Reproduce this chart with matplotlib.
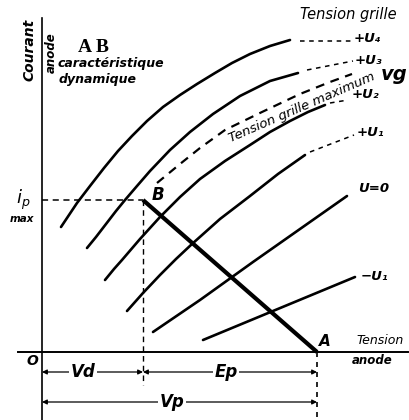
import matplotlib
matplotlib.use("Agg")
import matplotlib.pyplot as plt

# ---- data (anode voltage X, anode current Y; arbitrary units) ----
c_u4_x = [19, 27, 35, 48, 62, 76, 90, 105, 121, 138, 155, 173, 190, 208, 228, 248]
c_u4_y = [125, 137, 149, 166, 184, 201, 216, 231, 245, 257, 268, 279, 289, 298, 306, 312]
c_u4_ext_x = [258, 311]
c_u4_ext_y = [311, 311]

c_u3_x = [45, 54, 64, 74, 83, 95, 108, 128, 148, 171, 198, 228, 256]
c_u3_y = [104, 115, 128, 141, 152, 166, 181, 202, 220, 238, 256, 271, 279]
c_u3_ext_x = [265, 311]
c_u3_ext_y = [282, 291]

cmax_x = [115, 138, 158, 183, 220, 258, 288, 310]
cmax_y = [169, 188, 204, 222, 240, 258, 270, 278]

c_u2_x = [63, 72, 80, 98, 118, 138, 158, 183, 208, 228, 248, 266, 283]
c_u2_y = [72, 83, 92, 113, 135, 155, 173, 191, 207, 220, 231, 240, 247]
c_u2_ext_x = [288, 306]
c_u2_ext_y = [249, 252]

c_u1_x = [85, 101, 118, 134, 150, 178, 208, 236, 263]
c_u1_y = [41, 59, 77, 93, 108, 133, 156, 178, 197]
c_u1_ext_x = [268, 312]
c_u1_ext_y = [200, 217]

c_u0_x = [111, 158, 211, 258, 305]
c_u0_y = [20, 52, 90, 123, 156]

c_um1_x = [161, 313]
c_um1_y = [12, 75]

load_x = [101, 275]   # B, A
load_y = [152, 0]

curve_labels = ["+U₄", "+U₃", "+U₂", "+U₁", "U=0", "−U₁"]
label_pos = [(312, 313), (313, 292), (310, 257), (315, 219), (316, 163), (319, 75)]

Vd = 101
Vp = 275
ip_max = 152

fig = plt.figure(figsize=(4.1, 4.2), dpi=100)
ax = fig.add_axes([0, 0, 1, 1])
ax.set_xlim(-42, 368)
ax.set_ylim(-68, 352)
ax.axis("off")

k = "black"
lw = 1.9
# axes
ax.plot([0, 0], [-68, 334], color=k, lw=1.2)
ax.plot([-24, 366], [0, 0], color=k, lw=1.4)

for xs, ys in [(c_u4_x, c_u4_y), (c_u3_x, c_u3_y), (c_u2_x, c_u2_y),
               (c_u1_x, c_u1_y), (c_u0_x, c_u0_y), (c_um1_x, c_um1_y)]:
    ax.plot(xs, ys, color=k, lw=lw, solid_capstyle="round", solid_joinstyle="round")

for xs, ys in [(c_u4_ext_x, c_u4_ext_y), (c_u3_ext_x, c_u3_ext_y),
               (c_u2_ext_x, c_u2_ext_y), (c_u1_ext_x, c_u1_ext_y)]:
    ax.plot(xs, ys, color=k, lw=1.1, dashes=(3, 3))

ax.plot(cmax_x, cmax_y, color=k, lw=1.6, dashes=(4, 3))

# load line
ax.plot(load_x, load_y, color=k, lw=3.0, solid_capstyle="butt")

# dashed guides
ax.plot([0, Vd], [ip_max, ip_max], color=k, lw=1.1, dashes=(4, 3))
ax.plot([Vd, Vd], [ip_max, -33], color=k, lw=1.0, dashes=(4, 3))
ax.plot([Vp, Vp], [0, -68], color=k, lw=1.2, dashes=(3, 3))

tfont = dict(family="DejaVu Sans", style="italic", weight="bold")
for lab, (x, y) in zip(curve_labels, label_pos):
    ax.text(x, y, lab, fontsize=9.5, ha="left", va="center", **tfont)

# dimension lines
def dim(x0, x1, y, label, lx):
    ax.annotate("", xy=(x0, y), xytext=(x1, y),
                arrowprops=dict(arrowstyle="<|-|>", color=k, lw=0.9,
                                mutation_scale=7, shrinkA=0, shrinkB=0))
    ax.text(lx, y, label, fontsize=12, ha="center", va="center",
            bbox=dict(facecolor="white", edgecolor="none", pad=1.0), **tfont)

dim(0, Vd, -20, "Vd", 41)
dim(Vd, Vp, -20, "Ep", 184)
dim(0, Vp, -50, "Vp", 130)

ax.text(-10, -9, "O", fontsize=10, ha="center", va="center", **tfont)
ax.text(-19, 152, "$\\mathbf{\\mathit{i_p}}$", fontsize=13, ha="center", va="center")
ax.text(-20, 133, "max", fontsize=7.5, ha="center", va="center", **tfont)
ax.text(116, 157, "B", fontsize=12, ha="center", va="center", **tfont)
ax.text(283, 10, "A", fontsize=11, ha="center", va="center", **tfont)

ax.text(-12, 302, "Courant", fontsize=10, rotation=90, ha="center", va="center", **tfont)
ax.text(9, 299, "anode", fontsize=8.5, rotation=90, ha="center", va="center", **tfont)
ax.text(51, 305, "A B", fontsize=14, ha="center", va="center",
        family="Liberation Serif", weight="bold")
ax.text(69, 289, "caractéristique", fontsize=9, ha="center", va="center", **tfont)
ax.text(56, 272, "dynamique", fontsize=9, ha="center", va="center", **tfont)

ax.text(306, 337, "Tension grille", fontsize=10.5, ha="center", va="center",
        family="DejaVu Sans", style="italic")
ax.text(338, 12, "Tension", fontsize=9, ha="center", va="center",
        family="DejaVu Sans", style="italic")
ax.text(330, -8, "anode", fontsize=8.5, ha="center", va="center", **tfont)

ax.text(260, 244, "Tension grille maximum", fontsize=9.5, rotation=23.5,
        ha="center", va="center", family="DejaVu Sans", style="italic")
ax.text(352, 277, "vg", fontsize=14, ha="center", va="center", **tfont)

fig.savefig("out.png", dpi=100)
